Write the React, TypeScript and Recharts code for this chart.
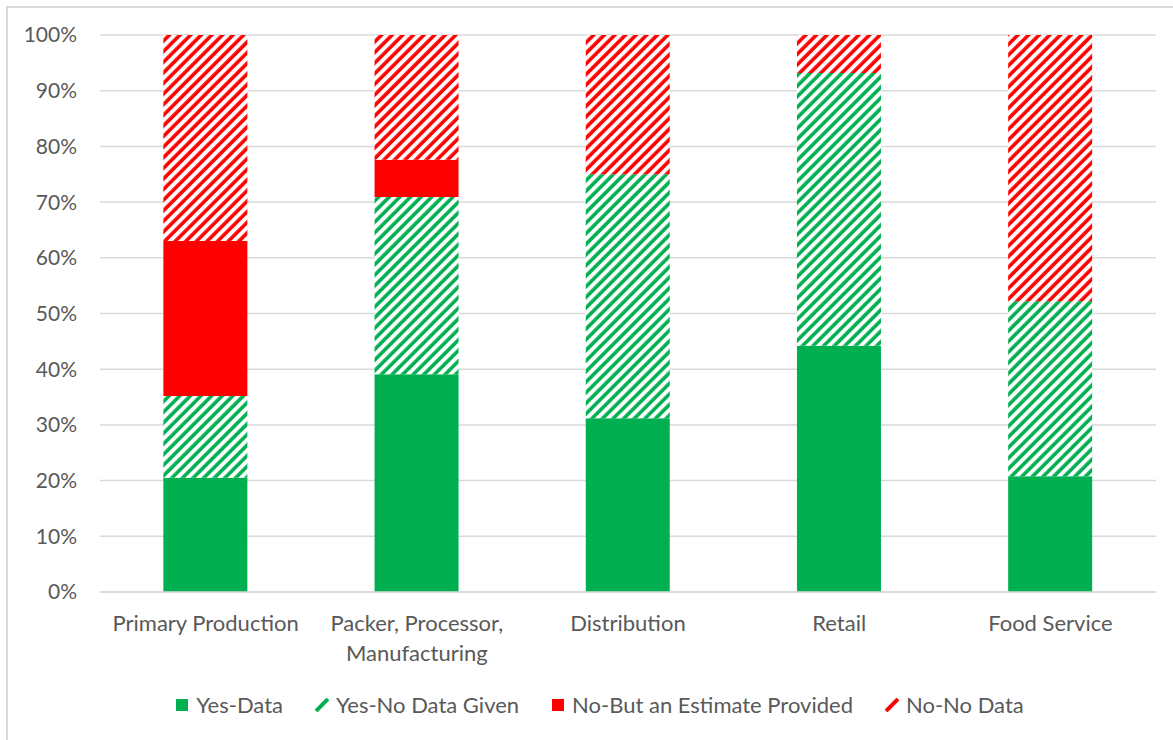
import { BarChart, Bar, XAxis, YAxis, CartesianGrid, Legend, Text } from "recharts";

const categories = [
  "Primary Production",
  "Packer, Processor, Manufacturing",
  "Distribution",
  "Retail",
  "Food Service",
];
const yesData = [20.5, 39.1, 31.2, 44.2, 20.8];
const yesNoDataGiven = [14.7, 31.8, 43.8, 49.0, 31.4];
const noButEstimate = [27.8, 6.7, 0, 0, 0];
const noNoData = [37.0, 22.4, 25.0, 6.8, 47.8];
const yTicks = [0, 10, 20, 30, 40, 50, 60, 70, 80, 90, 100];

const rows = categories.map((name, i) => ({
  name,
  yesData: yesData[i],
  yesNoDataGiven: yesNoDataGiven[i],
  noButEstimate: noButEstimate[i],
  noNoData: noNoData[i],
}));

const GREEN = "#00B050";
const RED = "#FF0000";
const INK = "#595959";
const FONT = "Lato, 'Open Sans', sans-serif";

const series = [
  { key: "yesData", label: "Yes-Data", fill: GREEN, striped: false },
  { key: "yesNoDataGiven", label: "Yes-No Data Given", fill: "url(#stripeGreen)", striped: true, color: GREEN },
  { key: "noButEstimate", label: "No-But an Estimate Provided", fill: RED, striped: false },
  { key: "noNoData", label: "No-No Data", fill: "url(#stripeRed)", striped: true, color: RED },
];

function CategoryTick({ x, y, payload }: any) {
  return (
    <Text
      x={x}
      y={y + 15}
      width={208}
      textAnchor="middle"
      verticalAnchor="start"
      lineHeight={30}
      fill={INK}
      style={{ fontFamily: FONT, fontSize: 22 }}
    >
      {payload.value}
    </Text>
  );
}

function LegendBox() {
  return (
    <div
      style={{
        display: "flex",
        justifyContent: "center",
        alignItems: "center",
        gap: 32,
        fontFamily: FONT,
        fontSize: 22,
        color: INK,
        paddingLeft: 26,
      }}
    >
      {series.map((s) => (
        <div key={s.key} style={{ display: "flex", alignItems: "center", gap: 7 }}>
          <svg width={14} height={14}>
            {s.striped ? (
              <path d="M1 13 L13 1" stroke={s.color} strokeWidth={4} />
            ) : (
              <rect x={1} y={1} width={12} height={12} fill={s.fill} />
            )}
          </svg>
          <span>{s.label}</span>
        </div>
      ))}
    </div>
  );
}

export default function App() {
  return (
    <div style={{ position: "absolute", left: 0, top: 0, width: 1173, height: 740, background: "#fff", overflow: "hidden" }}>
      <div
        style={{
          position: "absolute",
          left: 6,
          top: 6,
          width: 1200,
          height: 760,
          border: "2px solid #d9d9d9",
        }}
      />
      <BarChart
        width={1173}
        height={740}
        data={rows}
        margin={{ top: 35, right: 17, bottom: 88, left: 0 }}
        barCategoryGap="30%"
      >
        <defs>
          <pattern id="stripeGreen" width={7.5} height={7.5} patternUnits="userSpaceOnUse" patternTransform="rotate(45)">
            <rect width={7.5} height={7.5} fill="#fff" />
            <line x1={2} y1={0} x2={2} y2={7.5} stroke={GREEN} strokeWidth={3.6} />
          </pattern>
          <pattern id="stripeRed" width={7.5} height={7.5} patternUnits="userSpaceOnUse" patternTransform="rotate(45)">
            <rect width={7.5} height={7.5} fill="#fff" />
            <line x1={2} y1={0} x2={2} y2={7.5} stroke={RED} strokeWidth={3.6} />
          </pattern>
        </defs>
        <CartesianGrid vertical={false} stroke="#d9d9d9" strokeWidth={1.5} />
        <XAxis
          dataKey="name"
          axisLine={{ stroke: "#d9d9d9", strokeWidth: 1.5 }}
          tickLine={false}
          height={60}
          interval={0}
          tick={<CategoryTick />}
        />
        <YAxis
          width={100}
          domain={[0, 100]}
          ticks={yTicks}
          axisLine={false}
          tickLine={false}
          tickMargin={17}
          tick={{ fill: INK, fontSize: 21, fontFamily: FONT }}
          tickFormatter={(v: number) => `${v}%`}
        />
        <Legend
          layout="horizontal"
          verticalAlign="middle"
          content={<LegendBox />}
          wrapperStyle={{ top: 691, left: 0, width: 1173, height: 30 }}
        />
        {series.map((s) => (
          <Bar key={s.key} dataKey={s.key} stackId="a" fill={s.fill} isAnimationActive={false} />
        ))}
      </BarChart>
    </div>
  );
}
